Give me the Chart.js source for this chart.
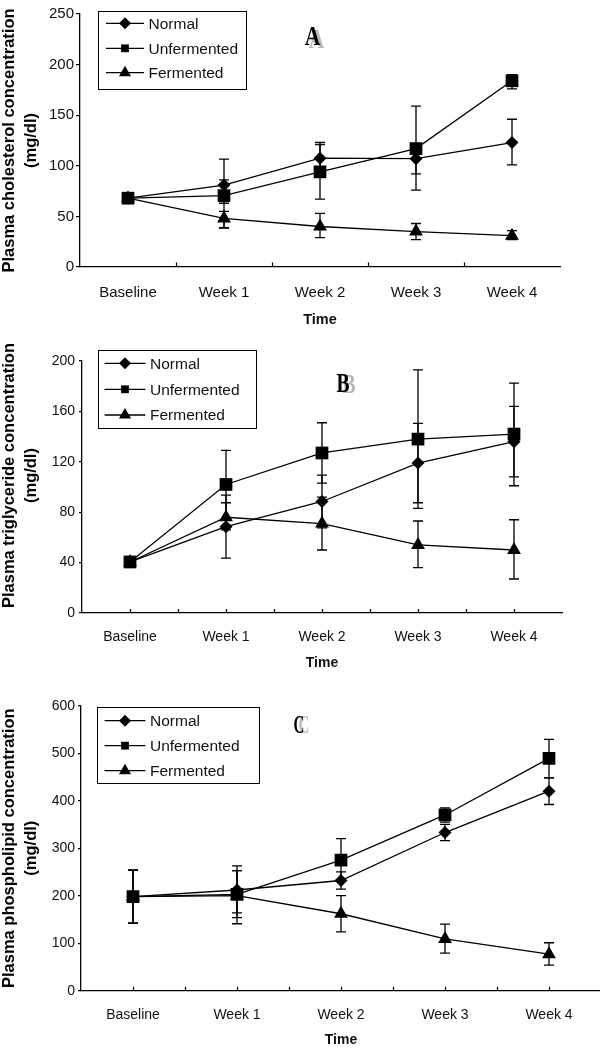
<!DOCTYPE html>
<html><head><meta charset="utf-8">
<script src="https://cdn.jsdelivr.net/npm/chart.js@4.4.1/dist/chart.umd.min.js"></script>
<style>
html,body{margin:0;padding:0;background:#fff;overflow:hidden;width:600px;height:1049px;}
canvas{position:absolute;left:0;}
</style></head><body>
<canvas id="cA" width="600" height="335" style="top:0px"></canvas>
<canvas id="cB" width="600" height="340" style="top:335px"></canvas>
<canvas id="cC" width="610" height="374" style="top:675px"></canvas>
<script>
// ---------- data ----------
const categories = ['Baseline', 'Week 1', 'Week 2', 'Week 3', 'Week 4'];
const seriesNames = ['Normal', 'Unfermented', 'Fermented'];
const xTitle = 'Time';

// A: cholesterol
const cholTicks = [0, 50, 100, 150, 200, 250];
const cholNormal = [68, 81, 107.5, 107, 123];
const cholNormalUp = [0, 5, 13.5, 15, 23];
const cholNormalDown = [0, 18, 13.5, 15, 22];
const cholUnferm = [68, 70.5, 94, 117, 184];
const cholUnfermUp = [0, 36, 29, 42, 6];
const cholUnfermDown = [0, 32, 27, 41, 8];
const cholFerm = [68, 48, 40, 35, 31];
const cholFermUp = [0, 7, 13, 8, 5];
const cholFermDown = [0, 9, 11, 8, 4];

// B: triglyceride
const trigTicks = [0, 40, 80, 120, 160, 200];
const trigNormal = [40.5, 68.5, 88.5, 119, 136];
const trigNormalUp = [0, 19, 21, 31.5, 28];
const trigNormalDown = [0, 25, 21, 31.5, 28];
const trigUnferm = [40.5, 102, 127, 138, 142];
const trigUnfermUp = [0, 27, 24, 55, 40.5];
const trigUnfermDown = [0, 27, 24, 55, 41];
const trigFerm = [40.5, 76, 71, 54, 50];
const trigFermUp = [0, 17.5, 21, 19, 24];
const trigFermDown = [0, 10, 21, 18, 23];

// C: phospholipid
const phosTicks = [0, 100, 200, 300, 400, 500, 600];
const phosNormal = [198, 212, 232, 333, 420];
const phosNormalUp = [56, 51, 18, 17, 28];
const phosNormalDown = [56, 48, 18, 17, 28];
const phosUnferm = [198, 203, 275, 370, 489];
const phosUnfermUp = [56, 50, 45, 15, 40];
const phosUnfermDown = [56, 49, 45, 15, 41];
const phosFerm = [198, 200, 162, 109, 77];
const phosFermUp = [56, 53, 38, 31, 24];
const phosFermDown = [56, 59, 38, 30, 23];

// ---------- styling ----------
const FONT = 'Liberation Sans, Arial, sans-serif';
const INK = '#111';
const pointStyles = ['rectRot', 'rect', 'triangle'];
const pointRadii = [6.5, 9, 8];
const legendRadii = [6, 5.5, 7];

function drawMarker(ctx, style, x, y, r) {
  ctx.beginPath();
  if (style === 'rect') {
    const s = Math.SQRT1_2 * r;
    ctx.rect(x - s, y - s, 2 * s, 2 * s);
  } else if (style === 'rectRot') {
    ctx.moveTo(x - r, y); ctx.lineTo(x, y - r); ctx.lineTo(x + r, y); ctx.lineTo(x, y + r);
    ctx.closePath();
  } else {
    ctx.moveTo(x, y - r);
    ctx.lineTo(x + r * Math.sin(2 * Math.PI / 3), y - r * Math.cos(2 * Math.PI / 3));
    ctx.lineTo(x + r * Math.sin(4 * Math.PI / 3), y - r * Math.cos(4 * Math.PI / 3));
    ctx.closePath();
  }
  ctx.fill();
}

const decor = {
  id: 'decor',
  beforeDatasetsDraw(chart) {
    const ctx = chart.ctx, ys = chart.scales.y;
    ctx.save();
    ctx.strokeStyle = '#000';
    ctx.lineWidth = 1.3;
    chart.data.datasets.forEach((ds, di) => {
      const meta = chart.getDatasetMeta(di);
      ds.data.forEach((v, i) => {
        const u = ds.errUp[i], d = ds.errDown[i];
        if (!u && !d) return;
        const x = meta.data[i].x;
        const yt = ys.getPixelForValue(v + u), yb = ys.getPixelForValue(v - d);
        ctx.beginPath();
        ctx.moveTo(x, yt); ctx.lineTo(x, yb);
        if (u) { ctx.moveTo(x - 5, yt); ctx.lineTo(x + 5, yt); }
        if (d) { ctx.moveTo(x - 5, yb); ctx.lineTo(x + 5, yb); }
        ctx.stroke();
      });
    });
    ctx.restore();
  },
  afterDraw(chart, args, o) {
    const ctx = chart.ctx, xs = chart.scales.x;
    ctx.save();
    // x tick marks (inside)
    ctx.strokeStyle = '#000';
    ctx.lineWidth = 1.2;
    const n = chart.data.labels.length;
    const half = (xs.getPixelForTick(1) - xs.getPixelForTick(0)) / 2;
    const base = chart.chartArea.bottom;
    const pos = [];
    for (let i = 0; i < n - 1; i++) pos.push(xs.getPixelForTick(i) + half);
    if (o.catTicks) for (let i = 0; i < n; i++) pos.push(xs.getPixelForTick(i));
    ctx.beginPath();
    pos.forEach(p => { const px = Math.round(p) + 0.5; ctx.moveTo(px, base); ctx.lineTo(px, base - o.tickLen); });
    ctx.stroke();

    // legend
    const L = o.legend;
    ctx.fillStyle = '#fff';
    ctx.fillRect(L.x, L.y, L.w, L.h);
    ctx.strokeStyle = '#000';
    ctx.lineWidth = 1;
    ctx.strokeRect(L.x + 0.5, L.y + 0.5, L.w, L.h);
    ctx.font = L.fontSize + 'px ' + FONT;
    ctx.textBaseline = 'middle';
    ctx.textAlign = 'left';
    chart.data.datasets.forEach((ds, i) => {
      const yy = L.rows[i];
      ctx.strokeStyle = '#000'; ctx.lineWidth = 1.3;
      ctx.beginPath(); ctx.moveTo(L.x1, yy); ctx.lineTo(L.x2, yy); ctx.stroke();
      ctx.fillStyle = '#000';
      drawMarker(ctx, ds.pointStyle, (L.x1 + L.x2) / 2, yy, legendRadii[i]);
      ctx.fillStyle = INK;
      ctx.fillText(ds.label, L.tx, yy + 1);
    });

    // panel letter with grey shadow
    const T = o.letter;
    ctx.font = 'bold ' + T.size + 'px Liberation Serif, Times New Roman, serif';
    ctx.textAlign = 'center';
    ctx.textBaseline = 'alphabetic';
    [[T.dx, T.dy, '#b8b8b8'], [0, 0, '#000']].forEach(([dx, dy, c]) => {
      ctx.save();
      ctx.translate(T.x + dx, T.y + dy);
      ctx.scale(T.sx, 1);
      ctx.fillStyle = c;
      ctx.fillText(T.text, 0, 0);
      ctx.restore();
    });
    ctx.restore();
  }
};

function makeChart(id, p) {
  const vals = [p.normal, p.unferm, p.ferm];
  const ups = [p.normalUp, p.unfermUp, p.fermUp];
  const downs = [p.normalDown, p.unfermDown, p.fermDown];
  return new Chart(document.getElementById(id), {
    type: 'line',
    data: {
      labels: categories,
      datasets: seriesNames.map((name, i) => ({
        label: name,
        data: vals[i],
        errUp: ups[i],
        errDown: downs[i],
        borderColor: '#000',
        backgroundColor: '#000',
        borderWidth: 1.3,
        pointStyle: pointStyles[i],
        pointRadius: pointRadii[i],
        pointHoverRadius: pointRadii[i],
        pointBorderWidth: 0,
        pointBackgroundColor: '#000',
        tension: 0,
        fill: false
      }))
    },
    options: {
      responsive: false,
      animation: false,
      devicePixelRatio: 1,
      events: [],
      layout: { padding: { top: p.padTop, right: p.padRight, left: 0, bottom: 0 } },
      plugins: {
        legend: { display: false },
        tooltip: { enabled: false },
        decor: { legend: p.legend, letter: p.letter, catTicks: p.catTicks, tickLen: p.xTickLen }
      },
      scales: {
        x: {
          type: 'category',
          offset: true,
          grid: { display: false },
          border: { color: '#000', width: 1.3 },
          ticks: { color: INK, font: { family: FONT, size: p.xFont }, padding: p.xLabelPad, maxRotation: 0, autoSkip: false },
          title: { display: true, text: xTitle, color: INK, font: { family: FONT, size: p.timeFont, weight: 'bold' }, padding: { top: 0, bottom: p.timePad } },
          afterFit: s => { s.height = p.xH; }
        },
        y: {
          min: p.ticks[0],
          max: p.ticks[p.ticks.length - 1],
          afterBuildTicks: s => { s.ticks = p.ticks.map(v => ({ value: v })); },
          grid: { drawOnChartArea: false, drawTicks: true, tickLength: p.yTickLen, color: '#000', lineWidth: 1.2 },
          border: { color: '#000', width: 1.3 },
          ticks: { color: INK, font: { family: FONT, size: p.yFont }, padding: p.yLabelPad },
          title: { display: true, text: p.yTitle, color: '#000', font: { family: FONT, size: 16.5, weight: 'bold', lineHeight: 22 / 16.5 }, padding: { top: -1.5, bottom: 0 } },
          afterFit: s => { s.width = p.yW; }
        }
      }
    },
    plugins: [decor]
  });
}

makeChart('cA', {
  normal: cholNormal, normalUp: cholNormalUp, normalDown: cholNormalDown,
  unferm: cholUnferm, unfermUp: cholUnfermUp, unfermDown: cholUnfermDown,
  ferm: cholFerm, fermUp: cholFermUp, fermDown: cholFermDown,
  ticks: cholTicks,
  yTitle: ['Plasma cholesterol concentration', '(mg/dl)'],
  padTop: 14, padRight: 40, yW: 80, xH: 68,
  xFont: 15, yFont: 15, timeFont: 14.5, xLabelPad: 8.5, timePad: 6.3,
  yTickLen: 4, yLabelPad: 2, xTickLen: 4.5, catTicks: false,
  legend: { x: 98, y: 11, w: 148, h: 78, rows: [23.3, 48.3, 72.7], x1: 106, x2: 144, tx: 148.5, fontSize: 15.5 },
  letter: { text: 'A', x: 312.5, y: 45, size: 27, sx: 0.8, dx: 4, dy: 3 }
});

makeChart('cB', {
  normal: trigNormal, normalUp: trigNormalUp, normalDown: trigNormalDown,
  unferm: trigUnferm, unfermUp: trigUnfermUp, unfermDown: trigUnfermDown,
  ferm: trigFerm, fermUp: trigFermUp, fermDown: trigFermDown,
  ticks: trigTicks,
  yTitle: ['\u00a0\u00a0\u00a0\u00a0\u00a0Plasma triglyceride concentration', '\u00a0\u00a0\u00a0\u00a0\u00a0(mg/dl)'],
  padTop: 26, padRight: 38, yW: 82, xH: 62,
  xFont: 14, yFont: 14, timeFont: 14, xLabelPad: 7.6, timePad: 3.9,
  yTickLen: 3, yLabelPad: 4, xTickLen: 4, catTicks: true,
  legend: { x: 98, y: 15, w: 158, h: 78, rows: [28.3, 54.3, 80], x1: 104.6, x2: 145.4, tx: 150, fontSize: 15.5 },
  letter: { text: 'B', x: 343, y: 57, size: 28, sx: 0.7, dx: 6, dy: 1 }
});

makeChart('cC', {
  normal: phosNormal, normalUp: phosNormalUp, normalDown: phosNormalDown,
  unferm: phosUnferm, unfermUp: phosUnfermUp, unfermDown: phosUnfermDown,
  ferm: phosFerm, fermUp: phosFermUp, fermDown: phosFermDown,
  ticks: phosTicks,
  yTitle: ['Plasma phospholipid concentration', '(mg/dl)'],
  padTop: 30.7, padRight: 6.5, yW: 81, xH: 58.3,
  xFont: 14, yFont: 14, timeFont: 14, xLabelPad: 7.6, timePad: 0.6,
  yTickLen: 3, yLabelPad: 3, xTickLen: 4, catTicks: true,
  legend: { x: 97, y: 32, w: 162, h: 76, rows: [45.7, 70.7, 95.7], x1: 104.6, x2: 145.4, tx: 150, fontSize: 15.5 },
  letter: { text: 'C', x: 299, y: 58, size: 25, sx: 0.6, dx: 5, dy: 0 }
});
</script>
</body></html>
